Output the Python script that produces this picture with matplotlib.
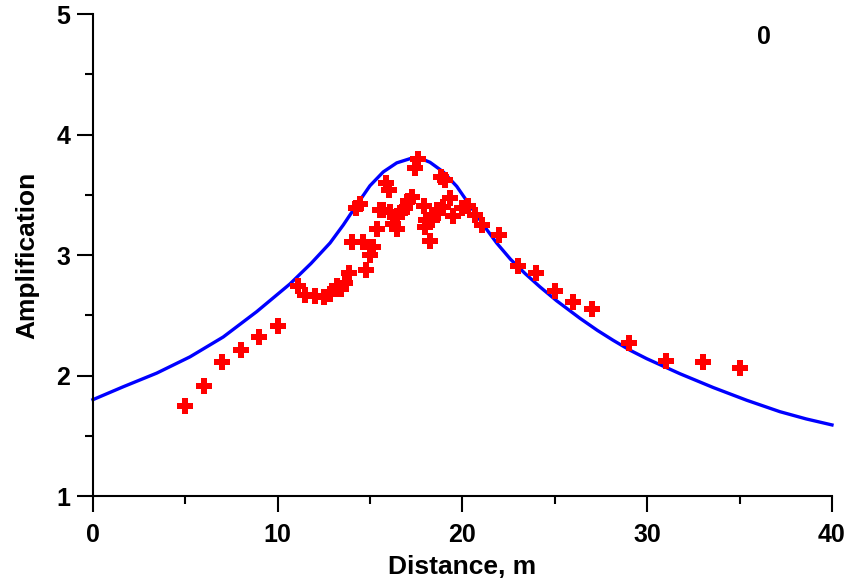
import matplotlib
matplotlib.use("Agg")
import matplotlib.pyplot as plt
from matplotlib.ticker import MultipleLocator

plt.rcParams["font.family"] = ["Liberation Sans", "DejaVu Sans"]
plt.rcParams["font.weight"] = "bold"

# measured amplification (red crosses)
meas_x = [5, 6, 7, 8, 9, 10,
          11.1, 11.5, 12.0, 12.5, 12.85, 13.2, 13.45, 13.65, 13.85, 14.8,
          14.0, 14.6, 15.15, 15.0, 15.35, 15.7, 14.25, 14.45, 15.85, 16.0,
          15.55, 16.1, 16.25, 16.45, 16.45, 16.7, 16.9, 17.05, 17.25, 17.45,
          17.6, 17.9, 18.05, 17.95, 18.25, 18.35, 18.6, 18.7, 18.85, 19.05,
          18.95, 19.3, 19.5, 19.95, 20.3, 20.7, 21.05,
          22, 23, 24, 25, 26, 27, 29, 31, 33, 35]
meas_y = [1.75, 1.91, 2.11, 2.21, 2.32, 2.41,
          2.74, 2.67, 2.66, 2.65, 2.68, 2.74, 2.72, 2.77, 2.85, 2.88,
          3.11, 3.11, 3.07, 3.00, 3.22, 3.37, 3.39, 3.42, 3.60, 3.54,
          3.37, 3.36, 3.26, 3.22, 3.32, 3.36, 3.39, 3.45, 3.48, 3.72,
          3.80, 3.41, 3.29, 3.23, 3.12, 3.29, 3.37, 3.35, 3.65, 3.62,
          3.40, 3.47, 3.32, 3.39, 3.41, 3.33, 3.25,
          3.17, 2.91, 2.85, 2.70, 2.61, 2.55, 2.27, 2.12, 2.11, 2.06]

# model curve (blue line)
model_x = [0, 1.64, 3.45, 5.25, 7.05, 8.86, 10.66, 11.8, 12.83, 13.55,
           14.27, 14.99, 15.71, 16.44, 17.16, 17.61, 18.24, 18.96, 19.69,
           20.41, 21.13, 21.85, 22.6, 23.4, 24.2, 25.1, 26.36, 27.3, 28.16,
           29.07, 29.97, 31.77, 33.58, 35.38, 37.18, 38.6, 40]
model_y = [1.80, 1.907, 2.02, 2.155, 2.32, 2.53, 2.76, 2.93, 3.10, 3.25,
           3.415, 3.575, 3.69, 3.765, 3.80, 3.81, 3.77, 3.69, 3.57,
           3.41, 3.25, 3.10, 2.965, 2.845, 2.735, 2.62, 2.475, 2.375, 2.292,
           2.21, 2.14, 2.015, 1.90, 1.795, 1.70, 1.64, 1.59]

fig = plt.figure(figsize=(8.5, 5.87), dpi=100)
ax = fig.add_axes([0.1094, 0.155, 0.8694, 0.821])

ax.plot(model_x, model_y, color="#0000ff", linewidth=2.4, clip_on=False,
        solid_joinstyle="round", zorder=2)
ax.plot(meas_x, meas_y, linestyle="none", marker="P", markersize=11.5,
        markeredgewidth=0, color="#ff0000", zorder=3)

ax.set_xlim(0, 40)
ax.set_ylim(1, 5)
ax.xaxis.set_major_locator(MultipleLocator(10))
ax.xaxis.set_minor_locator(MultipleLocator(5))
ax.yaxis.set_major_locator(MultipleLocator(1))
ax.yaxis.set_minor_locator(MultipleLocator(0.5))

for side in ["top", "right"]:
    ax.spines[side].set_visible(False)
for side in ["left", "bottom"]:
    ax.spines[side].set_linewidth(1.5)

ax.tick_params(which="major", direction="out", length=11.5, width=1.5,
               labelsize=18)
ax.tick_params(axis="x", which="major", pad=8)
ax.tick_params(axis="y", which="major", pad=5)
ax.tick_params(which="minor", direction="out", length=5.8, width=1.5)

ax.set_xlabel("Distance, m", fontsize=19, fontweight="bold", labelpad=6)
ax.set_ylabel("Amplification", fontsize=19, fontweight="bold", labelpad=12)

ax.text(36.3, 4.81, "0", fontsize=18, fontweight="bold",
        ha="center", va="center")

plt.savefig("out.png", dpi=100)
plt.close()
